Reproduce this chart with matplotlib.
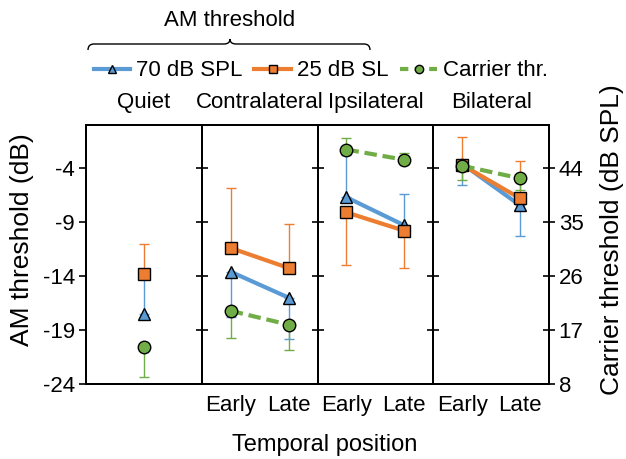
import matplotlib.pyplot as plt
from matplotlib.lines import Line2D
from matplotlib.path import Path
from matplotlib.patches import PathPatch
import numpy as np

plt.rcParams['font.family'] = ['Liberation Sans', 'DejaVu Sans']
plt.rcParams['font.size'] = 16
plt.rcParams['axes.unicode_minus'] = False

panels = ['Quiet', 'Contralateral', 'Ipsilateral', 'Bilateral']
positions = ['Early', 'Late']

# AM thresholds (dB); error bars are one-sided: positive = up, negative = down
spl70 = [[-17.5], [-13.6, -16.0], [-6.7, -9.3], [-3.6, -7.45]]
spl70_err = [[3.7], [-4.2, -3.8], [3.9, 2.9], [-2.0, -2.8]]
sl25 = [[-13.8], [-11.4, -13.25], [-8.1, -9.8], [-3.7, -6.8]]
sl25_err = [[2.8], [5.6, 4.05], [-4.9, -3.45], [2.6, 3.45]]
# carrier thresholds (dB SPL), right axis
carrier = [[14.1], [20.2, 17.9], [47.1, 45.4], [44.4, 42.3]]
carrier_err = [[-5.0], [-4.5, -4.3], [1.9, 1.2], [-2.3, -2.0]]

am_ticks = [-24, -19, -14, -9, -4]
carrier_ticks = [8, 17, 26, 35, 44]

blue = '#5B9BD5'
orange = '#ED7D31'
green = '#70AD47'


def one_sided(err):
    err = np.asarray(err)
    return [np.where(err < 0, -err, 0), np.where(err > 0, err, 0)]


fig = plt.figure(figsize=(6.26, 4.59), dpi=100)
gs = fig.add_gridspec(1, 4, left=0.1374, right=0.877, bottom=0.1634,
                      top=0.7277, wspace=0)

for i, name in enumerate(panels):
    ax = fig.add_subplot(gs[0, i])
    axc = ax.twinx()
    n = len(spl70[i])
    x = np.arange(n) + 0.5
    ax.set_xlim(0, n)
    ax.set_ylim(-24, 0)
    axc.set_ylim(8, 8 + 24 * 1.8)

    ax.errorbar(x, spl70[i], yerr=one_sided(spl70_err[i]), fmt='none',
                ecolor=blue, elinewidth=1.0, capsize=3.5, capthick=1.0)
    ax.plot(x, spl70[i], color=blue, lw=3, marker='^', ms=8.5,
            mfc=blue, mec='black', mew=1)
    ax.errorbar(x, sl25[i], yerr=one_sided(sl25_err[i]), fmt='none',
                ecolor=orange, elinewidth=1.0, capsize=3.5, capthick=1.0)
    ax.plot(x, sl25[i], color=orange, lw=3, marker='s', ms=8.5,
            mfc=orange, mec='black', mew=1)
    axc.errorbar(x, carrier[i], yerr=one_sided(carrier_err[i]), fmt='none',
                 ecolor=green, elinewidth=1.0, capsize=3.5, capthick=1.0)
    axc.plot(x, carrier[i], color=green, lw=3, ls=(0, (3, 1.4)), marker='o',
             ms=9, mfc=green, mec='black', mew=1)

    for a in (ax, axc):
        for s in a.spines.values():
            s.set_linewidth(1.4)

    if n == 2:
        ax.set_xticks(x)
        ax.set_xticklabels(positions)
    else:
        ax.set_xticks([])
    ax.tick_params(axis='x', length=0, pad=8)

    ax.set_yticks(am_ticks)
    if i == 0:
        ax.tick_params(axis='y', direction='out', length=5, width=1.2, pad=3)
    else:
        ax.tick_params(axis='y', direction='inout', length=8, width=1.2,
                       labelleft=False)

    if i == len(panels) - 1:
        axc.set_yticks(carrier_ticks)
        axc.tick_params(axis='y', direction='inout', length=8, width=1.2,
                        pad=3)
    else:
        axc.set_yticks([])

    ax.text(0.5, 1.085, name, transform=ax.transAxes, ha='center',
            va='center')

fig.text(22 / 626, 1 - 240 / 459, 'AM threshold (dB)', rotation=90,
         ha='center', va='center', fontsize=19)
fig.text(612 / 626, 1 - 240 / 459, 'Carrier threshold (dB SPL)',
         rotation=90, ha='center', va='center', fontsize=19)
fig.text(325 / 626, 1 - 445 / 459, 'Temporal position', ha='center',
         va='center', fontsize=17)

handles = [
    Line2D([], [], color=blue, lw=3, marker='^', ms=6, mfc=blue,
           mec='black', mew=1),
    Line2D([], [], color=orange, lw=3, marker='s', ms=6, mfc=orange,
           mec='black', mew=1),
    Line2D([], [], color=green, lw=3, ls=(0, (2, 1.5)), marker='o', ms=6,
           mfc=green, mec='black', mew=1),
]
fig.legend(handles, ['70 dB SPL', '25 dB SL', 'Carrier thr.'],
           loc='center', bbox_to_anchor=(0.512, 1 - 71 / 459), ncol=3,
           frameon=False, handlelength=1.65, handletextpad=0.25,
           columnspacing=0.55, borderaxespad=0)


# curly brace grouping the two AM threshold series
def fx(px):
    return px / 626


def fy(py):
    return 1 - py / 459


verts = [(88, 50), (88, 44), (94, 44), (224, 44), (230, 44), (230, 39),
         (230, 44), (236, 44), (364, 44), (370, 44), (370, 50)]
codes = [Path.MOVETO, Path.CURVE3, Path.CURVE3, Path.LINETO, Path.CURVE3,
         Path.CURVE3, Path.CURVE3, Path.CURVE3, Path.LINETO, Path.CURVE3,
         Path.CURVE3]
brace = Path([(fx(a), fy(b)) for a, b in verts], codes)
fig.add_artist(PathPatch(brace, fill=False, lw=1.0, color='black',
                         transform=fig.transFigure))
fig.text(230 / 626, 1 - 20 / 459, 'AM threshold', ha='center', va='center')

fig.savefig('out.png', dpi=100)
